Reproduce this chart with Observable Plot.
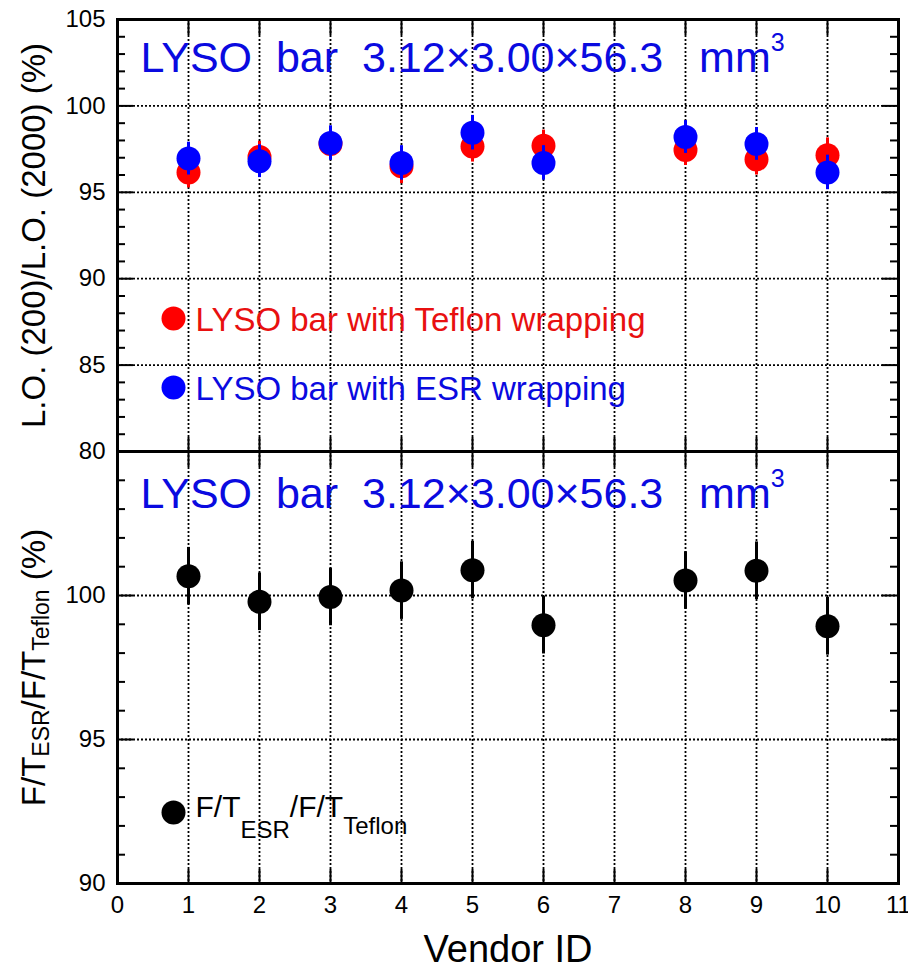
<!DOCTYPE html>
<html><head><meta charset="utf-8">
<script src="https://cdn.jsdelivr.net/npm/d3@7"></script>
<script src="https://cdn.jsdelivr.net/npm/@observablehq/plot@0.6"></script>
<style>
html,body{margin:0;padding:0;background:#fff;}
#chart{position:relative;width:908px;height:971px;overflow:hidden;background:#fff;}
#chart svg{position:absolute;left:0;}
</style></head><body><div id="chart"></div>
<script>
// ---- data ----
const vendors   = [1, 2, 3, 4, 5, 6, 8, 9, 10];
const teflonLO  = [96.15, 97.05, 97.8, 96.5, 97.65, 97.7, 97.45, 96.9, 97.15];
const teflonErr = [0.9, 0.9, 0.9, 1.0, 0.9, 0.9, 0.9, 0.9, 1.0];
const esrLO     = [96.95, 96.8, 97.85, 96.7, 98.45, 96.7, 98.2, 97.8, 96.15];
const esrErr    = [0.95, 0.95, 1.0, 1.0, 1.0, 1.0, 0.95, 0.95, 1.0];
const ratioFT   = [100.67, 99.78, 99.95, 100.17, 100.88, 98.97, 100.52, 100.86, 98.93];
const ratioErr  = [1.0, 1.0, 1.0, 1.0, 1.0, 1.0, 1.0, 1.0, 1.0];

const xTickLabels   = [0, 1, 2, 3, 4, 5, 6, 7, 8, 9, 10, 11];
const xGridVals     = [1, 2, 3, 4, 5, 6, 7, 8, 9, 10];
const yTickTop      = [80, 85, 90, 95, 100, 105];
const yGridTop      = [85, 90, 95, 100];
const yTickBottom   = [90, 95, 100];
const yGridBottom   = [95, 100];

const titleText   = "LYSO\u00a0\u00a0bar\u00a0\u00a03.12×3.00×56.3\u00a0\u00a0\u00a0mm3";
const legendTef   = "LYSO bar with Teflon wrapping";
const legendEsr   = "LYSO bar with ESR wrapping";
const legendRatio = "F/TESR/F/TTeflon";
const yLabelTop   = "L.O. (200)/L.O. (2000) (%)";
const yLabelBot   = "F/TESR/F/TTeflon (%)";
const xLabel      = "Vendor ID";

// ---- layout/style ----
const FONT = '"Liberation Sans", Arial, Helvetica, sans-serif';
const W = 908, ML = 117, MR = 10, FW = W - ML - MR;
const topH = 455, topMT = 19, topMB = 4, FH = 432;
const botTop = 448, botH = 523, botMT = 3, botMB = 88;
const RED = "#ff0000", BLUE = "#0000ff", TBLUE = "#0a0ae0", TRED = "#e81010";
const dotted = {stroke: "black", strokeWidth: 1.8, strokeDasharray: "2,2"};

const rows = (vals, errs) => vendors.map((v, i) => ({vendor: v, value: vals[i], err: errs[i]}));
const tefRows = rows(teflonLO, teflonErr);
const esrRows = rows(esrLO, esrErr);
const ratRows = rows(ratioFT, ratioErr);

function tickMarks(yMajor, yMinor) {
  return [
    Plot.tickY(yMajor, {y: d => d, insetRight: FW - 16, strokeWidth: 2}),
    Plot.tickY(yMajor, {y: d => d, insetLeft: FW - 16, strokeWidth: 2}),
    Plot.tickY(yMinor, {y: d => d, insetRight: FW - 8, strokeWidth: 2}),
    Plot.tickY(yMinor, {y: d => d, insetLeft: FW - 8, strokeWidth: 2}),
    Plot.tickX(xGridVals, {x: d => d, insetBottom: FH - 16, strokeWidth: 2}),
    Plot.tickX(xGridVals, {x: d => d, insetTop: FH - 14, strokeWidth: 2})
  ];
}
function errDots(data, color) {
  return [
    Plot.ruleX(data, {x: "vendor", y1: d => d.value - d.err, y2: d => d.value + d.err, stroke: color, strokeWidth: 3}),
    Plot.dot(data, {x: "vendor", y: "value", r: 12, fill: color, stroke: "none"})
  ];
}
const plotStyle = {background: "transparent", overflow: "visible", fontFamily: FONT, color: "black"};

const yMinorTop = d3.range(81, 105).filter(v => v % 5 !== 0);
const yMinorBot = d3.range(91, 105).filter(v => v % 5 !== 0);

const topPlot = Plot.plot({
  width: W, height: topH, marginLeft: ML, marginRight: MR, marginTop: topMT, marginBottom: topMB,
  x: {domain: [0, 11], axis: null},
  y: {domain: [80, 105], axis: null},
  style: plotStyle,
  marks: [
    Plot.ruleX(xGridVals, {x: d => d, ...dotted}),
    Plot.ruleY(yGridTop, {y: d => d, ...dotted}),
    ...tickMarks(yTickTop, yMinorTop),
    Plot.text(yTickTop, {y: d => d, text: d => String(d), frameAnchor: "left", textAnchor: "end", lineAnchor: "middle", dx: -12, fontSize: 24, fill: "black"}),
    ...errDots(tefRows, RED),
    ...errDots(esrRows, BLUE),
    Plot.dot([legendTef], {frameAnchor: "top-left", dx: 56, dy: 299, r: 12, fill: RED}),
    Plot.dot([legendEsr], {frameAnchor: "top-left", dx: 56, dy: 368, r: 12, fill: BLUE}),
    Plot.text([legendTef], {text: d => d, frameAnchor: "top-left", dx: 78, dy: 301, textAnchor: "start", lineAnchor: "middle", fontSize: 33, fill: TRED}),
    Plot.text([legendEsr], {text: d => d, frameAnchor: "top-left", dx: 78, dy: 370, textAnchor: "start", lineAnchor: "middle", fontSize: 33, fill: TBLUE}),
    Plot.text([titleText], {text: d => d, frameAnchor: "top-left", dx: 23, dy: 22, lineAnchor: "top", textAnchor: "start", fontSize: 43, fill: TBLUE}),
    Plot.text([yLabelTop], {text: d => d, frameAnchor: "left", rotate: -90, dx: -83, textAnchor: "middle", lineAnchor: "middle", fontSize: 33, fill: "black"}),
    Plot.frame({stroke: "black", strokeWidth: 3})
  ]
});
topPlot.style.top = "0px";

const botPlot = Plot.plot({
  width: W, height: botH, marginLeft: ML, marginRight: MR, marginTop: botMT, marginBottom: botMB,
  x: {domain: [0, 11], axis: null},
  y: {domain: [90, 105], axis: null},
  style: plotStyle,
  marks: [
    Plot.ruleX(xGridVals, {x: d => d, ...dotted}),
    Plot.ruleY(yGridBottom, {y: d => d, ...dotted}),
    ...tickMarks(yTickBottom, yMinorBot),
    Plot.text(yTickBottom, {y: d => d, text: d => String(d), frameAnchor: "left", textAnchor: "end", lineAnchor: "middle", dx: -12, fontSize: 24, fill: "black"}),
    Plot.text(xTickLabels, {x: d => d, text: d => String(d), frameAnchor: "bottom", lineAnchor: "top", textAnchor: "middle", dy: 12, fontSize: 24, fill: "black"}),
    ...errDots(ratRows, "black"),
    Plot.dot([legendRatio], {frameAnchor: "bottom-left", dx: 56, dy: -71, r: 12, fill: "black"}),
    Plot.text([legendRatio], {text: d => d, frameAnchor: "bottom-left", dx: 78, dy: -76, textAnchor: "start", lineAnchor: "middle", fontSize: 30, fill: "black"}),
    Plot.text([titleText], {text: d => d, frameAnchor: "top-left", dx: 23, dy: 26, lineAnchor: "top", textAnchor: "start", fontSize: 43, fill: TBLUE}),
    Plot.text([yLabelBot], {text: d => d, frameAnchor: "left", rotate: -90, dx: -83, textAnchor: "middle", lineAnchor: "middle", fontSize: 33, fill: "black"}),
    Plot.text([xLabel], {text: d => d, frameAnchor: "bottom", lineAnchor: "top", textAnchor: "middle", dy: 52, fontSize: 38, fill: "black"}),
    Plot.frame({stroke: "black", strokeWidth: 3})
  ]
});
botPlot.style.top = botTop + "px";

const chart = document.getElementById("chart");
chart.appendChild(topPlot);
chart.appendChild(botPlot);

// rich text (sub/superscripts) for texts placed by Plot
const NS = "http://www.w3.org/2000/svg";
function rich(svg, plain, parts) {
  svg.querySelectorAll("text").forEach(t => {
    if (t.textContent !== plain) return;
    while (t.firstChild) t.removeChild(t.firstChild);
    let cur = 0;
    for (const p of parts) {
      const ts = document.createElementNS(NS, "tspan");
      const shift = p.dy || 0;
      if (shift - cur !== 0) ts.setAttribute("dy", shift - cur);
      cur = shift;
      if (p.size) ts.setAttribute("font-size", p.size);
      ts.textContent = p.t;
      t.appendChild(ts);
    }
  });
}
for (const svg of [topPlot, botPlot]) {
  rich(svg, titleText, [{t: "LYSO\u00a0\u00a0bar\u00a0\u00a03.12×3.00×56.3\u00a0\u00a0\u00a0mm"}, {t: "3", size: 25, dy: -21}]);
}
rich(botPlot, legendRatio, [{t: "F/T"}, {t: "ESR", size: 24, dy: 21}, {t: "/F/T"}, {t: "Teflon", size: 24, dy: 17}]);
rich(botPlot, yLabelBot, [{t: "F/T"}, {t: "ESR", size: 23, dy: 4}, {t: "/F/T"}, {t: "Teflon", size: 23, dy: 4}, {t: " (%)"}]);
</script></body></html>
